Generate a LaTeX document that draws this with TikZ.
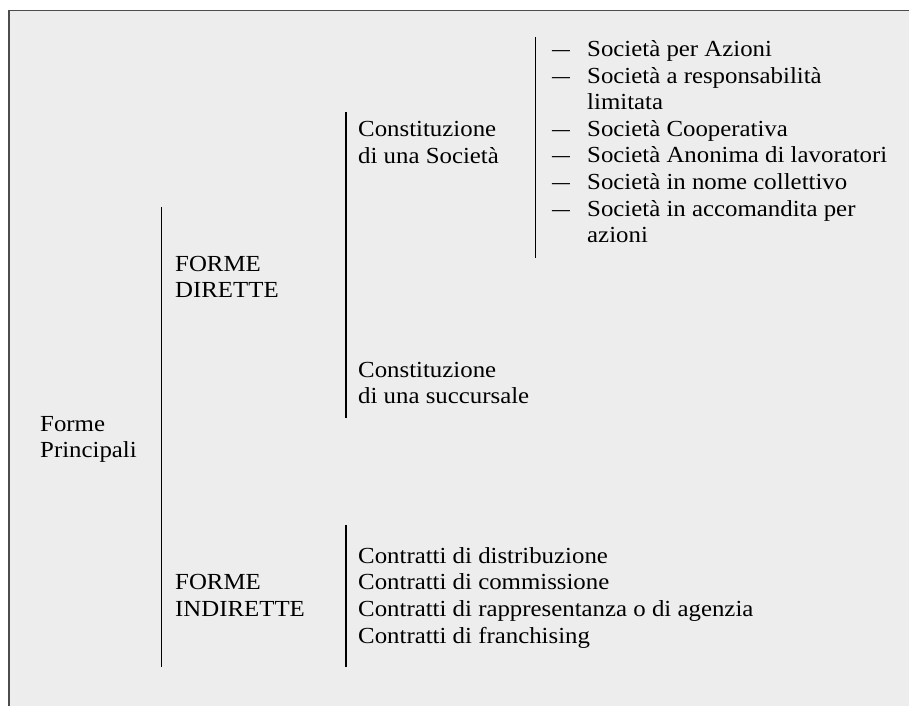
\documentclass[tikz,border=0pt]{standalone}
\usepackage{fontspec}
\usepackage{graphicx}
\setmainfont[FakeStretch=1.08]{Liberation Serif}
\begin{document}
\begin{tikzpicture}[x=1pt,y=-1pt,
  txt/.style={anchor=base west,inner sep=0pt,font=\fontsize{23}{26}\selectfont},
  bar/.style={line width=1.3pt,black},
  frame/.style={line width=1.5pt,draw=black!70}]
\newcommand{\mdash}{\scalebox{0.72}[1]{—}}
\useasboundingbox (0,0) rectangle (909,706);
\fill[white] (0,0) rectangle (909,706);
\fill[black!7] (9,10.5) rectangle (909,706);
\draw[frame] (9,706) -- (9,10.5) -- (909,10.5);
% vertical bars
\coordinate (b1t) at (161.5,207); \coordinate (b1b) at (161.5,667);
\coordinate (b2t) at (346,112);   \coordinate (b2b) at (346,418);
\coordinate (b3t) at (535.5,37);  \coordinate (b3b) at (535.5,258);
\coordinate (b4t) at (346,525);   \coordinate (b4b) at (346,667);
\draw[bar] (b1t) -- (b1b);
\draw[bar] (b2t) -- (b2b);
\draw[bar] (b3t) -- (b3b);
\draw[bar] (b4t) -- (b4b);
% root
\node[txt] (fp1) at (40,431.5) {Forme};
\node[txt] (fp2) at (40,457.5) {Principali};
% level 1
\node[txt] (fd1) at (175,271.5) {FORME};
\node[txt] (fd2) at (175,297.5) {DIRETTE};
\node[txt] (fi1) at (175,589.7) {FORME};
\node[txt] (fi2) at (175,616.3) {INDIRETTE};
% level 2
\node[txt] (cs1) at (358,136.5) {Constituzione};
\node[txt] (cs2) at (358,163.2) {di una Società};
\node[txt] (cu1) at (358,377) {Constituzione};
\node[txt] (cu2) at (358,403.5) {di una succursale};
\node[txt] (ct1) at (358,563) {Contratti di distribuzione};
\node[txt] (ct2) at (358,589.7) {Contratti di commissione};
\node[txt] (ct3) at (358,616.3) {Contratti di rappresentanza o di agenzia};
\node[txt] (ct4) at (358,643) {Contratti di franchising};
% level 3
\node[txt] (d1) at (552,56.5) {\mdash};
\node[txt] (s1) at (587,56.5) {Società per Azioni};
\node[txt] (d2) at (552,83.1) {\mdash};
\node[txt] (s2) at (587,83.1) {Società a responsabilità};
\node[txt] (s2b) at (587,109.7) {limitata};
\node[txt] (d3) at (552,136.3) {\mdash};
\node[txt] (s3) at (587,136.3) {Società Cooperativa};
\node[txt] (d4) at (552,162.9) {\mdash};
\node[txt] (s4) at (587,162.9) {Società Anonima di lavoratori};
\node[txt] (d5) at (552,189.5) {\mdash};
\node[txt] (s5) at (587,189.5) {Società in nome collettivo};
\node[txt] (d6) at (552,216.1) {\mdash};
\node[txt] (s6) at (587,216.1) {Società in accomandita per};
\node[txt] (s6b) at (587,242.7) {azioni};
\end{tikzpicture}
\end{document}
